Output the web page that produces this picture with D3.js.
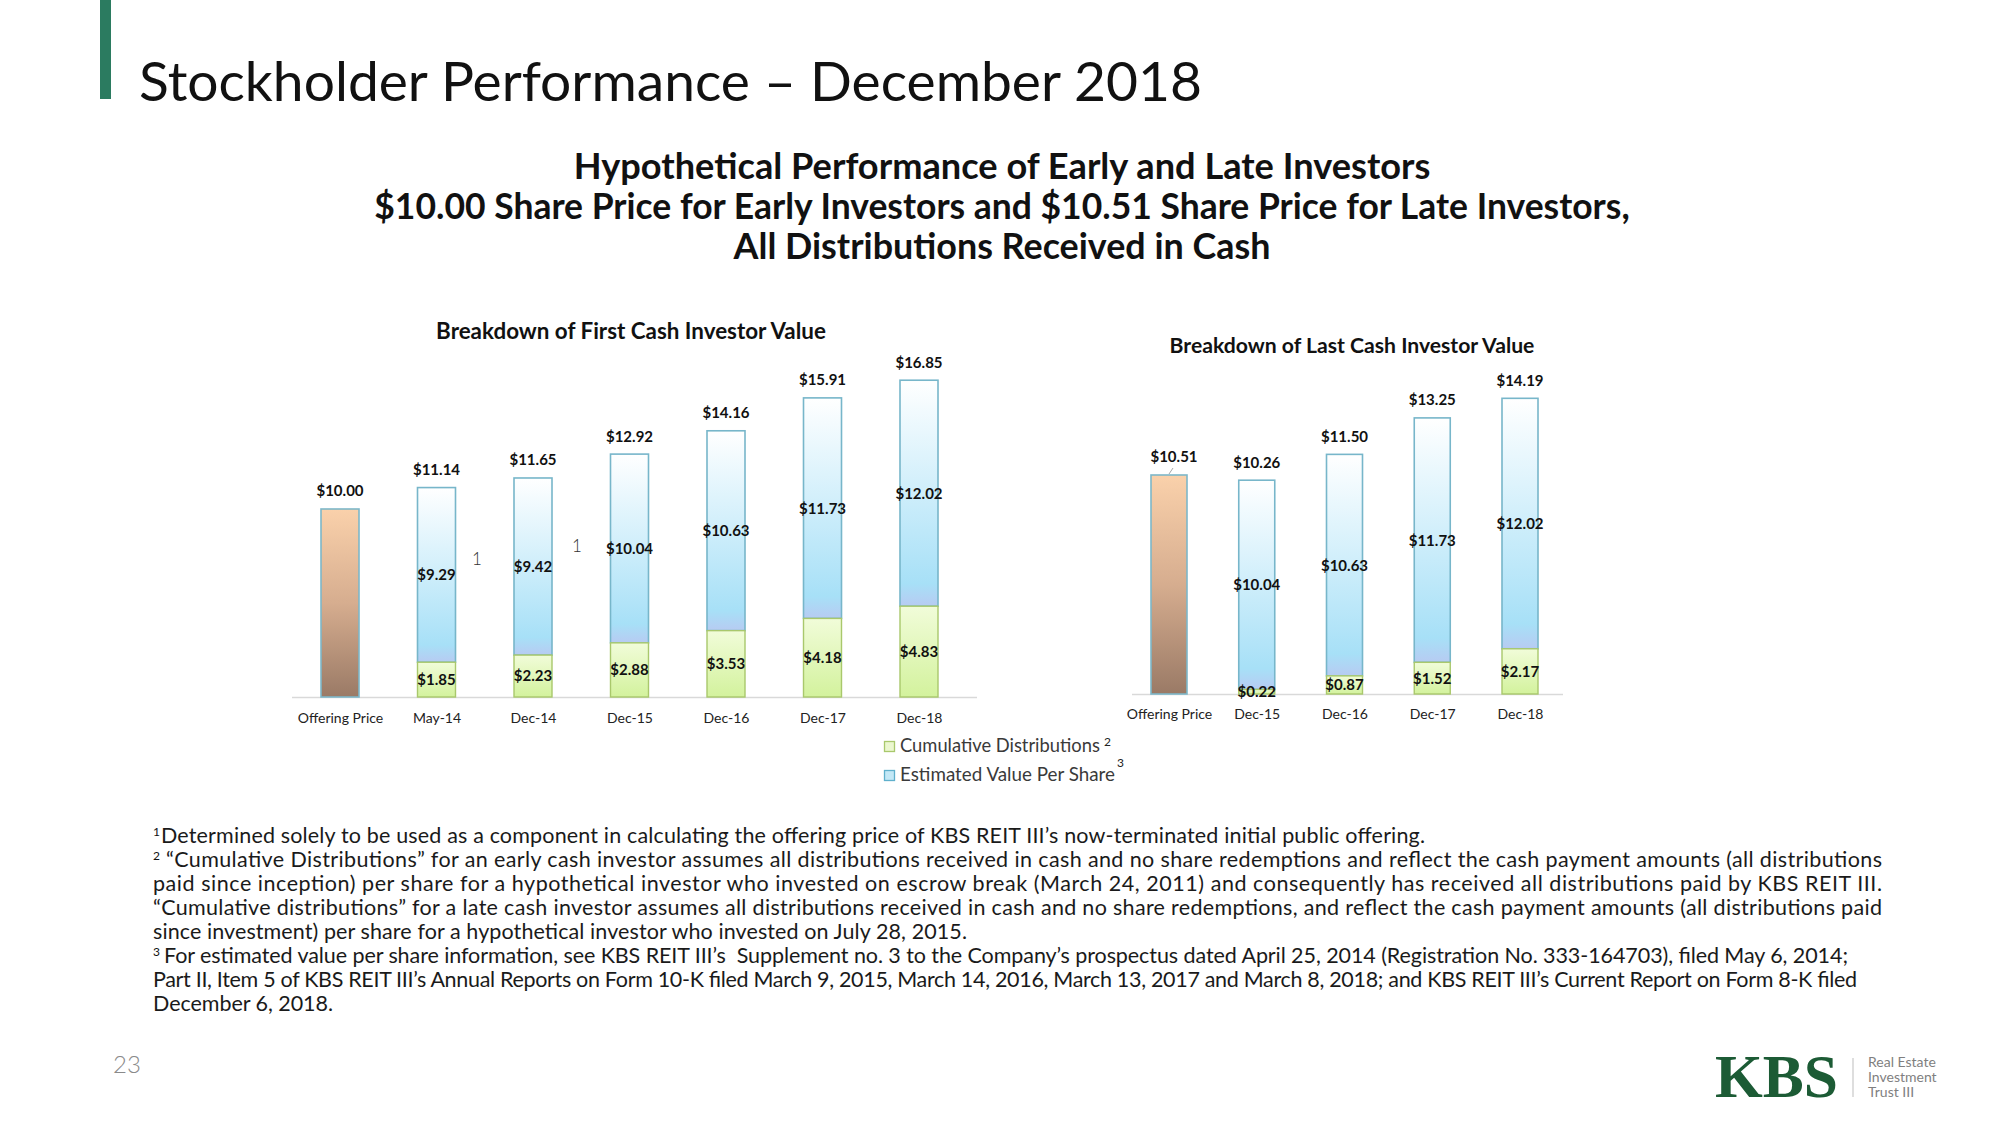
<!DOCTYPE html>
<html>
<head>
<meta charset="utf-8">
<script src="https://cdn.jsdelivr.net/npm/d3@7"></script>
<style>
  html, body { margin: 0; padding: 0; background: #ffffff; }
  svg { display: block; }
</style>
</head>
<body>
<svg id="chart" width="2000" height="1125"></svg>
<script>
// ---------------- DATA ----------------
const pageTitle = "Stockholder Performance – December 2018";
const subtitleLines = [
  "Hypothetical Performance of Early and Late Investors",
  "$10.00 Share Price for Early Investors and $10.51 Share Price for Late Investors,",
  "All Distributions Received in Cash"
];

const leftTitle = "Breakdown of First Cash Investor Value";
const leftOfferingLabel = "Offering Price";
const leftOfferingPrice = 10.00;
const leftDates = ["May-14", "Dec-14", "Dec-15", "Dec-16", "Dec-17", "Dec-18"];
const leftDistributions = [1.85, 2.23, 2.88, 3.53, 4.18, 4.83];
const leftEstimatedValues = [9.29, 9.42, 10.04, 10.63, 11.73, 12.02];
const leftTotals = [11.14, 11.65, 12.92, 14.16, 15.91, 16.85];

const rightTitle = "Breakdown of Last Cash Investor Value";
const rightOfferingLabel = "Offering Price";
const rightOfferingPrice = 10.51;
const rightDates = ["Dec-15", "Dec-16", "Dec-17", "Dec-18"];
const rightDistributions = [0.22, 0.87, 1.52, 2.17];
const rightEstimatedValues = [10.04, 10.63, 11.73, 12.02];
const rightTotals = [10.26, 11.50, 13.25, 14.19];

const legendItems = ["Cumulative Distributions", "Estimated Value Per Share"];
const legendNotes = ["2", "3"];

const footnoteLines = [
  { sup: "1", text: "Determined solely to be used as a component in calculating the offering price of KBS REIT III’s now-terminated initial public offering." },
  { sup: "2", text: "“Cumulative Distributions” for an early cash investor assumes all distributions received in cash and no share redemptions and reflect the cash payment amounts (all distributions" },
  { sup: "", text: "paid since inception) per share for a hypothetical investor who invested on escrow break (March 24, 2011) and consequently has received all distributions paid by KBS REIT III." },
  { sup: "", text: "“Cumulative distributions” for a late cash investor assumes all distributions received in cash and no share redemptions, and reflect the cash payment amounts (all distributions paid" },
  { sup: "", text: "since investment) per share for a hypothetical investor who invested on July 28, 2015." },
  { sup: "3", text: "For estimated value per share information, see KBS REIT III’s  Supplement no. 3 to the Company’s prospectus dated April 25, 2014 (Registration No. 333-164703), filed May 6, 2014;" },
  { sup: "", text: "Part II, Item 5 of KBS REIT III’s Annual Reports on Form 10-K filed March 9, 2015, March 14, 2016, March 13, 2017 and March 8, 2018; and KBS REIT III’s Current Report on Form 8-K filed" },
  { sup: "", text: "December 6, 2018." }
];
const pageNumber = "23";
const logoText = "KBS";
const logoLines = ["Real Estate", "Investment", "Trust III"];

// ---------------- LAYOUT ----------------
const footStart = [161, 166, 153, 153, 153, 164, 153, 153];
const footEnd   = [1425, 1882, 1882, 1882, 967, 1848, 1857, 333];

function draw() {
  const svg = d3.select("#chart");
  const fmt = d3.format("$.2f");

  function fit(sel, w) {
    const cur = parseFloat(sel.style("font-size"));
    const len = sel.node().getComputedTextLength();
    sel.style("font-size", (cur * w / len) + "px");
    return sel;
  }

  const defs = svg.append("defs");
  function grad(id, stops) {
    const g = defs.append("linearGradient").attr("id", id)
      .attr("x1", 0).attr("y1", 0).attr("x2", 0).attr("y2", 1);
    stops.forEach(s => g.append("stop").attr("offset", s[0]).attr("stop-color", s[1]));
  }
  grad("gValue", [[0, "#ffffff"], [0.9, "#a7e0f7"], [1, "#b7cbf2"]]);
  grad("gDist", [[0, "#f1fcd9"], [1, "#d3f29d"]]);
  grad("gOffer", [[0, "#fad1ab"], [0.5, "#d6ad8f"], [1, "#9a7a66"]]);

  // header
  svg.append("rect").attr("x", 100).attr("y", 0).attr("width", 11).attr("height", 99).attr("fill", "#2b7b60");
  const t = svg.append("text").attr("x", 139).attr("y", 101)
    .style("font-family", "Lato").style("font-weight", 400).style("font-size", "56px")
    .attr("fill", "#111").text(pageTitle);
  fit(t, 1063);

  const subW = [857, 1256, 537];
  const subY = [179, 219, 259];
  subtitleLines.forEach((s, i) => {
    const st = svg.append("text").attr("x", 1002).attr("y", subY[i]).attr("text-anchor", "middle")
      .style("font-family", "Lato").style("font-weight", 700).style("font-size", "32px")
      .attr("fill", "#111").text(s);
    fit(st, subW[i]);
  });

  function drawChart(cfg) {
    const g = svg.append("g");
    const cats = [cfg.offerLabel].concat(cfg.dates);
    const x = d3.scalePoint().domain(cats).range(cfg.xRange);
    const y = d3.scaleLinear().domain([0, cfg.refVal]).range([cfg.base, cfg.refTop]);
    const bw = cfg.barW;

    const tt = g.append("text").attr("x", cfg.titleX).attr("y", cfg.titleY).attr("text-anchor", "middle")
      .style("font-family", "Lato").style("font-weight", 700).style("font-size", "21px")
      .attr("fill", "#111").text(cfg.title);
    fit(tt, cfg.titleW);

    g.append("line").attr("x1", cfg.axisX[0]).attr("x2", cfg.axisX[1])
      .attr("y1", cfg.base + 0.5).attr("y2", cfg.base + 0.5)
      .attr("stroke", "#d9d9d9").attr("stroke-width", 1.5);

    g.append("rect").attr("x", x(cfg.offerLabel) - bw / 2).attr("y", y(cfg.offer))
      .attr("width", bw).attr("height", y(0) - y(cfg.offer))
      .attr("fill", "url(#gOffer)").attr("stroke", "#7db7c9").attr("stroke-width", 1.6);

    const rows = cfg.dates.map((d, i) => ({ d, dist: cfg.dists[i], val: cfg.vals[i], tot: cfg.tots[i] }));

    g.selectAll(".val").data(rows).join("rect")
      .attr("x", r => x(r.d) - bw / 2).attr("y", r => y(r.dist + r.val))
      .attr("width", bw).attr("height", r => y(r.dist) - y(r.dist + r.val))
      .attr("fill", "url(#gValue)").attr("stroke", "#77b6ca").attr("stroke-width", 1.6);
    g.selectAll(".dist").data(rows).join("rect")
      .attr("x", r => x(r.d) - bw / 2).attr("y", r => y(r.dist))
      .attr("width", bw).attr("height", r => y(0) - y(r.dist))
      .attr("fill", "url(#gDist)").attr("stroke", "#a9c86c").attr("stroke-width", 1.4);

    const lab = (sel) => sel.attr("text-anchor", "middle").attr("dy", "0.36em")
      .style("font-family", "Lato").style("font-weight", 700).style("font-size", "15px").attr("fill", "#111");

    lab(g.append("text").attr("x", x(cfg.offerLabel) + cfg.offerLabelDx).attr("y", y(cfg.offer) - 18).text(fmt(cfg.offer)));
    if (cfg.leader) {
      g.append("line").attr("x1", x(cfg.offerLabel) + 4).attr("y1", y(cfg.offer) - 7)
        .attr("x2", x(cfg.offerLabel)).attr("y2", y(cfg.offer) - 1)
        .attr("stroke", "#a6a6a6").attr("stroke-width", 1);
    }
    g.selectAll(".tot").data(rows).join("text").call(lab)
      .attr("x", r => x(r.d)).attr("y", r => y(r.tot) - 18).text(r => fmt(r.tot));
    g.selectAll(".vl").data(rows).join("text").call(lab)
      .attr("x", r => x(r.d)).attr("y", r => y(r.dist + r.val / 2)).text(r => fmt(r.val));
    g.selectAll(".dl").data(rows).join("text").call(lab)
      .attr("x", r => x(r.d)).attr("y", r => y(r.dist / 2)).text(r => fmt(r.dist));

    const ax = g.append("g").attr("transform", `translate(0,${cfg.labelY})`)
      .call(d3.axisBottom(x).tickSize(0).tickPadding(0));
    ax.select(".domain").remove();
    ax.selectAll("text").attr("dy", "0.36em").attr("y", 0)
      .style("font-family", "Lato").style("font-size", "14px").attr("fill", "#222");
    return { x, y };
  }

  drawChart({
    title: leftTitle, titleX: 631, titleY: 339, titleW: 390,
    offerLabel: leftOfferingLabel, offer: leftOfferingPrice, dates: leftDates,
    dists: leftDistributions, vals: leftEstimatedValues, tots: leftTotals,
    xRange: [340, 919], base: 697, refVal: 10, refTop: 509, barW: 38,
    axisX: [292, 977], labelY: 718, offerLabelDx: 0, leader: false
  });
  drawChart({
    title: rightTitle, titleX: 1352, titleY: 353, titleW: 365,
    offerLabel: rightOfferingLabel, offer: rightOfferingPrice, dates: rightDates,
    dists: rightDistributions, vals: rightEstimatedValues, tots: rightTotals,
    xRange: [1169, 1520], base: 694, refVal: 10.51, refTop: 475, barW: 36,
    axisX: [1132, 1563], labelY: 714, offerLabelDx: 5, leader: true
  });

  [[472, 565], [572, 552]].forEach(p => {
    svg.append("text").attr("x", p[0]).attr("y", p[1])
      .style("font-family", "Lato").style("font-weight", 300).style("font-size", "17px")
      .attr("fill", "#333").text("1");
  });

  const legColors = [["#ebf7cf", "#a9c86c"], ["#c3e8f6", "#5fb0cc"]];
  legendItems.forEach((s, i) => {
    const yy = 741 + i * 29;
    svg.append("rect").attr("x", 884.5).attr("y", yy + 0.5).attr("width", 10).attr("height", 10)
      .attr("fill", legColors[i][0]).attr("stroke", legColors[i][1]).attr("stroke-width", 1.3);
    const lt = svg.append("text").attr("x", 900).attr("y", yy + 11)
      .style("font-family", "Lato").style("font-size", "17px").attr("fill", "#3a3a3a").text(s);
    fit(lt, i === 0 ? 200 : 215);
    const endX = 900 + (i === 0 ? 200 : 215);
    svg.append("text").attr("x", endX + (i === 0 ? 4 : 2)).attr("y", yy + (i === 0 ? 5 : -3))
      .style("font-family", "Lato").style("font-size", "12px").attr("fill", "#222").text(legendNotes[i]);
  });

  const probe = svg.append("text").style("font-family", "Lato").style("font-size", "20px")
    .text(footnoteLines[0].text);
  fit(probe, footEnd[0] - footStart[0]);
  const footSize = Math.min(parseFloat(probe.style("font-size")), 21.5);
  probe.remove();

  footnoteLines.forEach((l, i) => {
    const by = 843 + i * 24.0;
    if (l.sup) {
      svg.append("text").attr("x", 153).attr("y", by - 7)
        .style("font-family", "Lato").style("font-size", "12px").attr("fill", "#111").text(l.sup);
    }
    svg.append("text").attr("x", footStart[i]).attr("y", by)
      .attr("xml:space", "preserve")
      .attr("textLength", footEnd[i] - footStart[i]).attr("lengthAdjust", "spacing")
      .style("font-family", "Lato").style("font-size", footSize + "px").attr("fill", "#1a1a1a").text(l.text);
  });

  svg.append("text").attr("x", 113).attr("y", 1073)
    .style("font-family", "Lato").style("font-weight", 300).style("font-size", "24px")
    .attr("fill", "#8a8a8a").text(pageNumber);

  const lg = svg.append("text").attr("x", 1715).attr("y", 1097)
    .style("font-family", "Liberation Serif").style("font-weight", 700).style("font-size", "58px")
    .attr("fill", "#1c5b35").text(logoText);
  fit(lg, 123);
  svg.append("line").attr("x1", 1853).attr("x2", 1853).attr("y1", 1058).attr("y2", 1097)
    .attr("stroke", "#c8c8c8").attr("stroke-width", 1.2);
  logoLines.forEach((s, i) => {
    svg.append("text").attr("x", 1868).attr("y", 1067 + i * 15)
      .style("font-family", "Lato").style("font-size", "14px").attr("fill", "#7f7f7f").text(s);
  });
}

if (document.fonts && document.fonts.ready) { document.fonts.ready.then(draw); } else { draw(); }
</script>
</body>
</html>
